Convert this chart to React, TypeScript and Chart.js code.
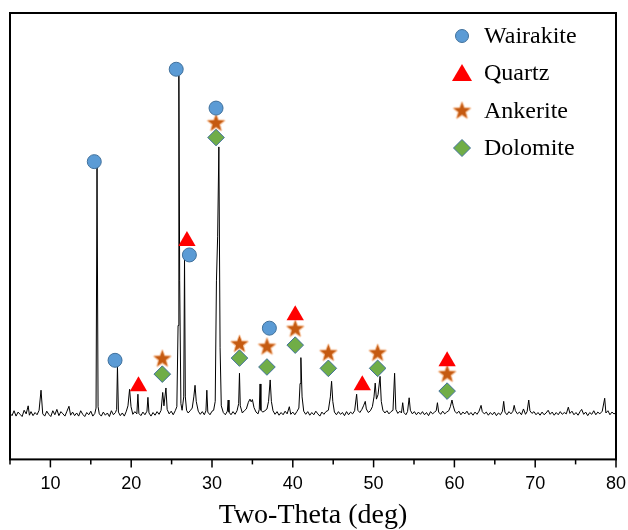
import React, { useEffect, useRef } from 'react';
import { Chart, registerables } from 'chart.js';

Chart.register(...registerables);

// XRD trace: [2θ (deg), intensity (arb.)]
const xrdTrace: [number, number][] = [
  [5.0, 10.3], [5.25, 9.8], [5.5, 10.9], [5.75, 9.7], [6.0, 10.6], [6.25, 10.1], [6.5, 9.6], [6.75, 11.0],
  [7.0, 10.2], [7.25, 12.0], [7.4, 9.9], [7.6, 10.7], [7.85, 9.8], [8.1, 10.5], [8.35, 10.0], [8.6, 11.0],
  [8.84, 15.5], [9.05, 10.2], [9.3, 9.7], [9.55, 10.8], [9.8, 10.1], [10.05, 9.6], [10.3, 10.9], [10.55, 10.0],
  [10.8, 11.2], [11.05, 9.8], [11.3, 10.7], [11.55, 10.2], [11.8, 9.7], [12.05, 10.8], [12.3, 11.9], [12.5, 9.9],
  [12.75, 10.6], [13.0, 9.8], [13.25, 10.4], [13.5, 9.7], [13.75, 10.9], [14.0, 10.1], [14.25, 9.6], [14.5, 10.5],
  [14.75, 10.0], [15.0, 10.8], [15.25, 9.7], [15.5, 10.3], [15.65, 11.5], [15.77, 65.8], [15.9, 11.8], [16.05, 10.2],
  [16.3, 9.7], [16.55, 10.6], [16.8, 9.9], [17.05, 10.4], [17.3, 9.6], [17.55, 10.9], [17.8, 10.0], [18.05, 10.5],
  [18.2, 11.2], [18.3, 20.9], [18.42, 10.6], [18.65, 9.8], [18.9, 10.4], [19.15, 9.7], [19.4, 10.8], [19.6, 12.0],
  [19.8, 15.7], [19.98, 11.8], [20.2, 10.1], [20.45, 10.7], [20.7, 10.2], [20.83, 14.6], [20.95, 10.3], [21.2, 9.8],
  [21.45, 10.6], [21.7, 10.0], [21.95, 10.8], [22.07, 13.9], [22.2, 10.4], [22.45, 9.7], [22.7, 10.5], [22.95, 9.9],
  [23.2, 10.7], [23.45, 10.1], [23.7, 11.0], [23.9, 15.0], [24.05, 12.0], [24.3, 16.0], [24.45, 11.2], [24.7, 10.2],
  [24.95, 10.8], [25.2, 10.0], [25.45, 10.9], [25.65, 11.8], [25.8, 30.0], [25.9, 86.0], [26.0, 40.0], [26.15, 12.5],
  [26.3, 11.0], [26.5, 14.0], [26.6, 45.0], [26.7, 14.0], [26.85, 11.0], [27.05, 10.4], [27.3, 10.9], [27.55, 11.5],
  [27.75, 14.0], [27.9, 16.6], [28.05, 13.0], [28.3, 10.8], [28.55, 10.1], [28.8, 10.7], [29.05, 10.0], [29.25, 10.9],
  [29.36, 15.5], [29.48, 10.6], [29.75, 10.0], [30.0, 10.8], [30.2, 11.0], [30.4, 13.0], [30.55, 40.0], [30.7, 50.0],
  [30.85, 70.0], [31.0, 25.0], [31.15, 12.0], [31.4, 10.5], [31.65, 10.0], [31.9, 10.8], [32.0, 13.3], [32.1, 10.6],
  [32.35, 10.0], [32.6, 10.7], [32.85, 10.1], [33.1, 10.9], [33.3, 12.5], [33.4, 19.3], [33.5, 12.0], [33.75, 10.4],
  [34.0, 10.9], [34.25, 11.3], [34.5, 12.8], [34.7, 13.5], [34.85, 12.9], [35.0, 13.4], [35.2, 11.6], [35.45, 10.6],
  [35.7, 10.2], [35.85, 11.2], [35.95, 16.9], [36.05, 11.0], [36.3, 10.6], [36.55, 10.9], [36.8, 11.3], [37.0, 13.0],
  [37.2, 17.8], [37.35, 13.0], [37.55, 10.9], [37.8, 10.1], [38.05, 10.7], [38.3, 9.9], [38.55, 10.5], [38.8, 10.0],
  [39.05, 10.8], [39.3, 10.2], [39.57, 11.8], [39.75, 10.1], [40.0, 10.6], [40.25, 10.0], [40.5, 10.7], [40.75, 11.5],
  [40.9, 17.0], [41.0, 22.8], [41.15, 14.0], [41.35, 10.8], [41.6, 10.1], [41.85, 10.7], [42.1, 9.9], [42.35, 10.5],
  [42.6, 10.0], [42.85, 10.8], [43.1, 10.2], [43.35, 9.7], [43.6, 10.6], [43.85, 10.1], [44.1, 10.7], [44.4, 11.0],
  [44.65, 14.0], [44.8, 17.5], [44.95, 13.0], [45.15, 10.6], [45.4, 10.0], [45.65, 10.7], [45.9, 10.1], [46.15, 10.5],
  [46.4, 9.8], [46.65, 10.7], [46.9, 10.0], [47.15, 10.6], [47.4, 10.2], [47.65, 10.9], [47.9, 14.6], [48.05, 11.0],
  [48.3, 10.5], [48.55, 11.2], [48.75, 12.0], [48.97, 13.0], [49.1, 11.3], [49.35, 10.5], [49.6, 10.9], [49.85, 11.8],
  [50.05, 14.0], [50.2, 17.1], [50.35, 13.5], [50.55, 14.5], [50.8, 18.6], [50.95, 13.0], [51.15, 11.0], [51.4, 10.4],
  [51.65, 10.9], [51.9, 10.2], [52.15, 10.7], [52.4, 11.0], [52.6, 19.3], [52.75, 11.2], [53.0, 10.3], [53.25, 10.8],
  [53.45, 10.4], [53.6, 12.7], [53.75, 10.5], [54.0, 10.0], [54.2, 10.7], [54.4, 13.8], [54.55, 11.0], [54.8, 10.2],
  [55.05, 10.7], [55.3, 10.0], [55.55, 10.6], [55.8, 10.1], [56.05, 10.7], [56.3, 10.0], [56.55, 10.5], [56.8, 9.8],
  [57.05, 10.7], [57.3, 10.2], [57.55, 10.6], [57.75, 10.9], [57.9, 12.7], [58.05, 10.6], [58.3, 10.1], [58.55, 10.8],
  [58.8, 10.2], [59.05, 10.6], [59.3, 10.9], [59.5, 11.8], [59.7, 13.3], [59.85, 12.0], [60.05, 10.8], [60.3, 10.3],
  [60.55, 10.8], [60.8, 10.0], [61.05, 10.6], [61.3, 10.2], [61.55, 10.8], [61.8, 10.0], [62.05, 10.5], [62.3, 9.9],
  [62.55, 10.6], [62.8, 10.1], [63.05, 10.8], [63.3, 12.1], [63.45, 10.7], [63.7, 10.2], [63.95, 10.6], [64.2, 9.9],
  [64.45, 10.5], [64.7, 10.0], [64.95, 10.6], [65.2, 9.8], [65.45, 10.4], [65.7, 10.0], [65.95, 10.8], [66.1, 13.0],
  [66.25, 10.6], [66.5, 10.0], [66.75, 10.7], [67.0, 10.2], [67.25, 10.8], [67.4, 12.1], [67.55, 10.9], [67.8, 10.2],
  [68.05, 10.6], [68.3, 10.0], [68.55, 11.3], [68.8, 10.1], [69.0, 10.7], [69.2, 13.3], [69.35, 10.9], [69.6, 10.3],
  [69.85, 10.7], [70.1, 10.0], [70.35, 10.5], [70.6, 9.9], [70.85, 10.6], [71.1, 10.0], [71.35, 10.4], [71.6, 11.0],
  [71.85, 10.1], [72.1, 10.6], [72.35, 9.9], [72.6, 10.5], [72.85, 10.0], [73.1, 10.7], [73.35, 10.1], [73.6, 10.5],
  [73.85, 10.2], [74.1, 11.7], [74.3, 10.3], [74.55, 10.8], [74.8, 10.0], [75.05, 10.5], [75.3, 9.9], [75.55, 10.7],
  [75.75, 11.2], [76.0, 10.1], [76.25, 10.6], [76.5, 9.8], [76.75, 10.5], [77.0, 10.1], [77.25, 10.9], [77.5, 10.0],
  [77.75, 10.6], [78.0, 10.2], [78.3, 10.8], [78.6, 13.7], [78.75, 10.4], [79.0, 10.9], [79.25, 10.0], [79.5, 10.6],
  [79.75, 10.2], [80.0, 10.4],
];

// Phase markers: [2θ, height]
const wairakiteMarks: [number, number][] = [[15.43, 66.7], [18.0, 22.2], [25.57, 87.4], [27.2, 45.8], [30.5, 78.7], [37.1, 29.4]];
const quartzMarks: [number, number][] = [[20.9, 16.4], [26.9, 48.9], [40.3, 32.3], [48.6, 16.6], [59.1, 22.0]];
const ankeriteMarks: [number, number][] = [[23.85, 22.5], [30.5, 75.3], [33.4, 25.8], [36.8, 25.2], [40.3, 29.2], [44.4, 23.8], [50.5, 23.8], [59.1, 19.1]];
const dolomiteMarks: [number, number][] = [[23.85, 19.1], [30.5, 72.1], [33.4, 22.7], [36.8, 20.7], [40.3, 25.6], [44.4, 20.4], [50.5, 20.4], [59.1, 15.3]];

const phaseNames = ['Wairakite', 'Quartz', 'Ankerite', 'Dolomite'];
const xTickValues = [5, 10, 15, 20, 25, 30, 35, 40, 45, 50, 55, 60, 65, 70, 75, 80];
const xTitle = 'Two-Theta (deg)';

function makeStar(size: number): HTMLCanvasElement {
  const c = document.createElement('canvas');
  c.width = size + 4;
  c.height = size + 4;
  const g = c.getContext('2d')!;
  const cx = c.width / 2;
  const cy = c.height / 2;
  const R = size / 2;
  const r = R * 0.42;
  g.beginPath();
  for (let i = 0; i < 10; i++) {
    const ang = -Math.PI / 2 + (i * Math.PI) / 5;
    const rad = i % 2 === 0 ? R : r;
    const px = cx + Math.cos(ang) * rad;
    const py = cy + Math.sin(ang) * rad;
    if (i === 0) g.moveTo(px, py);
    else g.lineTo(px, py);
  }
  g.closePath();
  g.lineJoin = 'round';
  g.strokeStyle = '#F6C29C';
  g.lineWidth = 2;
  g.stroke();
  g.fillStyle = '#C55A11';
  g.fill();
  return c;
}

export default function App() {
  const ref = useRef<HTMLCanvasElement | null>(null);

  useEffect(() => {
    if (!ref.current) return;
    const star = makeStar(17);
    const starLegend = makeStar(17);

    const styles = [
      { pointStyle: 'circle', radius: 7, bg: '#5B9BD5', border: '#41719C', bw: 1 },
      { pointStyle: 'triangle', radius: 10, bg: '#FF0000', border: '#FF0000', bw: 0 },
      { pointStyle: star as any, radius: 9, bg: '#C55A11', border: '#C55A11', bw: 0 },
      { pointStyle: 'rectRot', radius: 8.3, bg: '#70AD47', border: '#41719C', bw: 1 },
    ];
    const markSets = [wairakiteMarks, quartzMarks, ankeriteMarks, dolomiteMarks];

    const framePlugin = {
      id: 'frameAndTicks',
      afterDraw(chart: any) {
        const { ctx, chartArea: a } = chart;
        const xs = chart.scales.x;
        ctx.save();
        ctx.strokeStyle = '#000';
        ctx.lineWidth = 2;
        ctx.strokeRect(a.left, a.top, a.right - a.left, a.bottom - a.top);
        ctx.lineWidth = 1.5;
        for (const v of xTickValues) {
          const px = xs.getPixelForValue(v);
          const len = v % 10 === 0 ? 8 : 5;
          ctx.beginPath();
          ctx.moveTo(px, a.bottom);
          ctx.lineTo(px, a.bottom + len);
          ctx.stroke();
        }
        ctx.restore();
      },
    };

    const legendPlugin = {
      id: 'phaseLegend',
      afterDraw(chart: any) {
        const { ctx, chartArea: a } = chart;
        const mx = a.right - 154;
        const tx = a.right - 132;
        const rows = [23, 60, 98, 135];
        ctx.save();
        ctx.font = '24px "Liberation Serif", "Times New Roman", serif';
        ctx.textBaseline = 'middle';
        ctx.textAlign = 'left';
        phaseNames.forEach((name, i) => {
          const y = a.top + rows[i];
          ctx.save();
          if (i === 0) {
            ctx.beginPath();
            ctx.arc(mx, y, 6.5, 0, Math.PI * 2);
            ctx.fillStyle = '#5B9BD5';
            ctx.fill();
            ctx.strokeStyle = '#41719C';
            ctx.lineWidth = 1;
            ctx.stroke();
          } else if (i === 1) {
            ctx.beginPath();
            ctx.moveTo(mx, y - 9);
            ctx.lineTo(mx + 10, y + 8);
            ctx.lineTo(mx - 10, y + 8);
            ctx.closePath();
            ctx.fillStyle = '#FF0000';
            ctx.fill();
          } else if (i === 2) {
            ctx.drawImage(starLegend, mx - starLegend.width / 2, y - starLegend.height / 2);
          } else {
            ctx.beginPath();
            ctx.moveTo(mx, y - 8.5);
            ctx.lineTo(mx + 8.5, y);
            ctx.lineTo(mx, y + 8.5);
            ctx.lineTo(mx - 8.5, y);
            ctx.closePath();
            ctx.fillStyle = '#70AD47';
            ctx.fill();
            ctx.strokeStyle = '#41719C';
            ctx.lineWidth = 1;
            ctx.stroke();
          }
          ctx.restore();
          ctx.fillStyle = '#000';
          ctx.fillText(name, tx, y + 1);
        });
        ctx.restore();
      },
    };

    const markerDatasets = markSets.map((set, i) => ({
      type: 'scatter' as const,
      label: phaseNames[i],
      data: set.map(([x, y]) => ({ x, y })),
      pointStyle: styles[i].pointStyle,
      pointRadius: styles[i].radius,
      pointBackgroundColor: styles[i].bg,
      pointBorderColor: styles[i].border,
      pointBorderWidth: styles[i].bw,
      showLine: false,
      order: 0,
    }));

    const chart = new Chart(ref.current, {
      type: 'line',
      data: {
        datasets: [
          ...markerDatasets,
          {
            type: 'line',
            label: 'XRD',
            data: xrdTrace.map(([x, y]) => ({ x, y })),
            borderColor: '#000',
            borderWidth: 1,
            pointRadius: 0,
            tension: 0,
            fill: false,
            order: 10,
          },
        ] as any,
      },
      options: {
        animation: false,
        responsive: false,
        layout: { padding: { left: 8.5, top: 13, right: 12, bottom: 0 } },
        plugins: {
          legend: { display: false },
          tooltip: { enabled: false },
        },
        scales: {
          x: {
            type: 'linear',
            min: 5,
            max: 80,
            afterBuildTicks: (scale: any) => {
              scale.ticks = xTickValues.map((v) => ({ value: v }));
            },
            afterFit: (scale: any) => {
              scale.paddingLeft = 0;
              scale.paddingRight = 0;
            },
            ticks: {
              autoSkip: false,
              maxRotation: 0,
              padding: 6,
              color: '#000',
              font: { family: '"Liberation Sans", Arial, sans-serif', size: 18 },
              callback: (v: any) => (Number(v) % 10 === 0 ? String(v) : ''),
            },
            grid: { display: true, drawOnChartArea: false, drawTicks: true, tickLength: 8, color: 'transparent' },
            border: { display: false },
            title: {
              display: true,
              text: xTitle,
              color: '#000',
              font: { family: '"Liberation Serif", "Times New Roman", serif', size: 28, lineHeight: 1 },
              padding: { top: 1, bottom: 0 },
            },
          },
          y: {
            type: 'linear',
            min: 0,
            max: 100,
            display: false,
          },
        },
      },
      plugins: [framePlugin, legendPlugin],
    });

    return () => chart.destroy();
  }, []);

  return (
    <div style={{ position: 'absolute', left: 0, top: 0, width: 628, height: 530, background: '#fff' }}>
      <canvas ref={ref} width={628} height={530} />
    </div>
  );
}
